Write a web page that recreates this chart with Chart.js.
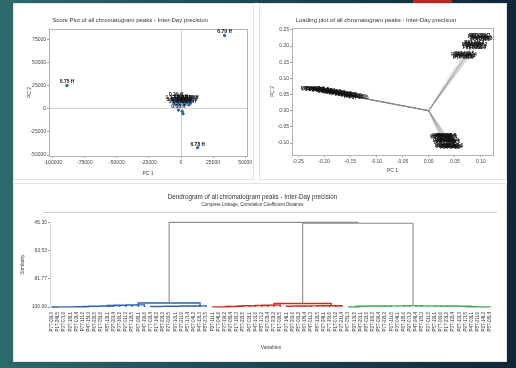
<!DOCTYPE html>
<html>
<head>
<meta charset="utf-8">
<script src="https://cdn.jsdelivr.net/npm/chart.js@4.4.1/dist/chart.umd.min.js"></script>
<style>
  html, body { margin: 0; padding: 0; }
  body { width: 516px; height: 368px; overflow: hidden; position: relative;
    background: linear-gradient(90deg, #2c6a6a 0%, #1d4b55 45%, #102638 100%); }
  .sheet { position: absolute; left: 13px; top: 3px; width: 494px; height: 359px; background: #fff; }
  .frame { position: absolute; border: 1px solid #e3e3e3; box-sizing: border-box; }
  canvas { position: absolute; }
  #topbar { position: absolute; left: 413px; top: 0; width: 39px; height: 3px; background: #c3231f; }
</style>
</head>
<body>
<div id="topbar"></div>
<div class="sheet"></div>
<div class="frame" style="left:13px;top:3px;width:241px;height:177px"></div>
<div class="frame" style="left:259px;top:3px;width:248px;height:177px"></div>
<div class="frame" style="left:13px;top:183px;width:494px;height:179px"></div>
<canvas id="score" width="240" height="176" style="left:13px;top:3px"></canvas>
<canvas id="loading" width="248" height="176" style="left:259px;top:3px"></canvas>
<canvas id="dendro" width="494" height="178" style="left:13px;top:183px"></canvas>
<script>
// ---- score plot ----
const scorePC1 = [-89000, 34000, 13000, -3800, -6400, -3300, -200, 2900, 5800, 8200, -5600, -2100, 1300, 4400, 7300, -4200, -700, 2600, 6100, -2000, 900, 1600];
const scorePC2 = [25000, 79000, -42000, 11000, 8600, 8300, 8900, 8400, 8100, 7700, 6400, 6200, 6900, 6300, 5900, 4400, 4200, 4700, 4100, -1500, -2800, -5400];
const scoreLabels = ['0.75 ff', '6.79 ff', '6.78 ff', '0.29 ff', '1.12 ff', '1.48 ff', '2.05 ff', '2.31 ff', '2.87 ff', '3.16 ff',
  '3.42 ff', '3.95 ff', '4.21 ff', '4.63 ff', '4.88 ff', '5.14 ff', '5.37 ff', '5.72 ff', '6.02 ff', '0.30 ff', '', ''];
const scoreXTicks = [-100000, -75000, -50000, -25000, 0, 25000, 50000];
const scoreYTicks = [-50000, -25000, 0, 25000, 50000, 75000];

// ---- variable names (dendrogram leaves / loading labels) ----
const blueNames = ['P7T-09L3', 'P1T-24L5', 'P3T-07L6', 'P2T-18L1', 'P5T-03L4', 'P7T-11L2', 'P4T-15L3', 'P6T-22L5', 'P1T-05L6',
  'P8T-13L1', 'P2T-20L4', 'P3T-16L2', 'P9T-01L3', 'P5T-12L5', 'P6T-08L1', 'P4T-19L6', 'P7T-02L4', 'P1T-14L2', 'P8T-23L3',
  'P2T-06L5', 'P9T-10L1', 'P3T-21L6', 'P5T-17L4', 'P6T-04L2', 'P4T-13L3', 'P8T-27L5'];
const redNames = ['P2T-11L1', 'P7T-04L6', 'P3T-19L2', 'P9T-08L4', 'P1T-16L3', 'P5T-22L5', 'P6T-02L1', 'P4T-10L6', 'P8T-17L2',
  'P2T-03L4', 'P7T-23L3', 'P1T-09L5', 'P3T-14L1', 'P9T-20L6', 'P5T-06L2', 'P6T-18L4', 'P4T-01L3', 'P8T-12L5', 'P2T-24L1',
  'P7T-15L6', 'P1T-07L2', 'P3T-21L4'];
const greenNames = ['P6T-05L3', 'P9T-13L5', 'P4T-20L1', 'P8T-02L6', 'P2T-16L2', 'P5T-09L4', 'P7T-22L3', 'P1T-11L5', 'P3T-04L1',
  'P6T-18L6', 'P9T-07L2', 'P4T-24L4', 'P8T-15L3', 'P2T-01L5', 'P5T-19L1', 'P7T-06L6', 'P1T-23L2', 'P3T-12L4', 'P6T-10L3',
  'P9T-17L5', 'P4T-03L1', 'P8T-21L6', 'P2T-14L2', 'P5T-08L4'];
const leafNames = blueNames.concat(redNames, greenNames);

// ---- loading plot ----
const loadLeftPC1 = [-0.226, -0.223, -0.218, -0.216, -0.211, -0.209, -0.204, -0.202, -0.197, -0.193, -0.191, -0.186, -0.183,
  -0.179, -0.177, -0.172, -0.168, -0.166, -0.161, -0.158, -0.155, -0.150, -0.147, -0.143, -0.139, -0.134];
const loadLeftPC2 = [0.068, 0.066, 0.067, 0.065, 0.064, 0.065, 0.062, 0.063, 0.061, 0.060, 0.059, 0.058, 0.057,
  0.056, 0.055, 0.053, 0.053, 0.051, 0.050, 0.049, 0.048, 0.046, 0.045, 0.044, 0.042, 0.041];
const loadUpPC1 = [0.094, 0.097, 0.099, 0.101, 0.103, 0.099, 0.096, 0.082, 0.085, 0.088, 0.091, 0.084, 0.087, 0.090, 0.093,
  0.062, 0.065, 0.068, 0.071, 0.066, 0.069, 0.073];
const loadUpPC2 = [0.228, 0.224, 0.231, 0.226, 0.222, 0.219, 0.233, 0.205, 0.201, 0.207, 0.199, 0.195, 0.210, 0.196, 0.203,
  0.172, 0.168, 0.175, 0.170, 0.163, 0.166, 0.174];
const loadLowPC1 = [0.022, 0.026, 0.030, 0.034, 0.028, 0.032, 0.024, 0.036, 0.027, 0.031, 0.035, 0.039, 0.029, 0.033, 0.037,
  0.041, 0.031, 0.035, 0.039, 0.043, 0.047, 0.033, 0.041, 0.045];
const loadLowPC2 = [-0.080, -0.078, -0.081, -0.077, -0.083, -0.079, -0.084, -0.082, -0.094, -0.092, -0.096, -0.093, -0.098,
  -0.097, -0.091, -0.095, -0.108, -0.111, -0.107, -0.112, -0.109, -0.113, -0.114, -0.110];
const loadXTicks = [-0.25, -0.20, -0.15, -0.10, -0.05, 0.00, 0.05, 0.10];
const loadYTicks = [-0.10, -0.05, 0.00, 0.05, 0.10, 0.15, 0.20, 0.25];

// ---- dendrogram: leaf order + similarity of each join ----
const blueA = [0, 1, 2, 3, 4, 5, 6, 7, 8, 9, 10, 11, 12, 13, 14, 15];
const blueASim = [99.96, 99.95, 99.93, 99.92, 99.9, 99.88, 99.6, 99.5, 99.45, 99.4, 99.0, 98.9, 98.8, 98.7, 98.6];
const blueB = [16, 17, 18, 19, 20, 21, 22, 23, 24, 25];
const blueBSim = [99.7, 99.65, 99.6, 99.55, 99.5, 99.45, 99.4, 99.35, 99.3];
const blueJoin = 97.4;
const redA = [26, 27, 28, 29, 30, 31, 32, 33, 34, 35, 36, 37];
const redASim = [99.95, 99.93, 99.9, 99.7, 99.6, 99.3, 99.2, 99.1, 99.0, 98.9, 98.8];
const redB = [38, 39, 40, 41, 42, 43, 44, 47, 46, 45];
const redBSim = [99.5, 99.45, 99.4, 99.35, 99.3, 99.25, 99.2, 99.15, 99.1];
const redJoin = 97.7;
const greenA = [48, 49, 50, 51, 52, 53, 54, 55, 56, 57, 58];
const greenASim = [99.95, 99.9, 99.5, 99.45, 99.4, 99.4, 99.35, 99.3, 99.3, 99.25];
const greenB = [71, 70, 69, 68, 67, 66, 65, 64, 63, 62, 61, 60, 59];
const greenBSim = [99.95, 99.93, 99.9, 99.88, 99.5, 99.45, 99.4, 99.4, 99.35, 99.3, 99.3, 99.25];
const greenJoin = 99.1;
const redGreenJoin = 45.9;
const finalJoin = 45.30;
const simTicks = [45.30, 63.53, 81.77, 100.00];

Chart.defaults.font.family = "'Liberation Sans', Arial, sans-serif";
Chart.defaults.color = '#444';

const framePlugin = {
  id: 'frame',
  afterDatasetsDraw(chart) {
    const a = chart.chartArea, ctx = chart.ctx;
    ctx.save();
    ctx.strokeStyle = '#b3b3b3';
    ctx.lineWidth = 1;
    ctx.strokeRect(Math.round(a.left) + 0.5, Math.round(a.top) + 0.5, Math.round(a.right - a.left), Math.round(a.bottom - a.top));
    ctx.restore();
  }
};

const pointLabelPlugin = {
  id: 'pointLabels',
  afterDatasetsDraw(chart) {
    const ctx = chart.ctx;
    chart.data.datasets.forEach((ds, i) => {
      if (!ds.pointLabels) return;
      const meta = chart.getDatasetMeta(i);
      ctx.save();
      ctx.font = ds.labelFont;
      ctx.fillStyle = '#111';
      ctx.textAlign = 'center';
      ctx.textBaseline = 'middle';
      meta.data.forEach((pt, j) => ctx.fillText(ds.pointLabels[j], pt.x, pt.y - ds.labelOffset));
      ctx.restore();
    });
  }
};

function fixX(h) {
  return s => { s.height = h; s.paddingLeft = 0; s.paddingRight = 0; };
}
function fixY(w) {
  return s => { s.width = w; s.paddingTop = 0; s.paddingBottom = 0; };
}
function setTicks(values) {
  return s => { s.ticks = values.map(v => ({ value: v })); };
}

// score plot
new Chart(document.getElementById('score'), {
  type: 'scatter',
  data: {
    datasets: [{
      data: scorePC1.map((x, i) => ({ x: x, y: scorePC2[i] })),
      pointLabels: scoreLabels,
      labelFont: 'bold 5px "Liberation Sans", Arial, sans-serif',
      labelOffset: 3.5,
      backgroundColor: '#2b5fae',
      borderColor: '#2b5fae',
      pointRadius: 1.2,
    }],
  },
  options: {
    responsive: false,
    animation: false,
    layout: { padding: { left: 0, right: 6, top: 0, bottom: 0 } },
    plugins: {
      legend: { display: false },
      tooltip: { enabled: false },
      title: { display: true, text: 'Score Plot of all chromatogram peaks - Inter-Day precision', color: '#333',
        font: { size: 6, weight: 'normal' }, padding: { top: 13.4, bottom: 5.4 } },
    },
    scales: {
      x: {
        type: 'linear', min: -103000, max: 51500,
        afterBuildTicks: setTicks(scoreXTicks), afterFit: fixX(23),
        ticks: { font: { size: 5 }, padding: 2, maxRotation: 0, autoSkip: false, callback: v => String(v) },
        grid: { color: c => (c.tick && c.tick.value === 0 ? '#d4d4d4' : 'transparent'), tickColor: '#999', tickLength: 2 },
        border: { display: false },
        title: { display: true, text: 'PC 1', font: { size: 5 }, padding: { top: 0, bottom: 2.4 } },
      },
      y: {
        type: 'linear', min: -51000, max: 86000,
        afterBuildTicks: setTicks(scoreYTicks), afterFit: fixY(36),
        ticks: { font: { size: 5 }, padding: 1, autoSkip: false, callback: v => String(v) },
        grid: { color: c => (c.tick && c.tick.value === 0 ? '#d4d4d4' : 'transparent'), tickColor: '#999', tickLength: 2 },
        border: { display: false },
        title: { display: true, text: 'PC 2', font: { size: 5 }, padding: { top: 13.4, bottom: 0 } },
      },
    },
  },
  plugins: [framePlugin, pointLabelPlugin],
});

// loading plot
const loadPC1 = loadLeftPC1.concat(loadUpPC1, loadLowPC1);
const loadPC2 = loadLeftPC2.concat(loadUpPC2, loadLowPC2);
const loadLines = [];
loadPC1.forEach((x, i) => {
  loadLines.push({ x: 0, y: 0 }, { x: x, y: loadPC2[i] }, { x: null, y: null });
});

new Chart(document.getElementById('loading'), {
  type: 'scatter',
  data: {
    datasets: [
      { data: loadLines, showLine: true, spanGaps: false, borderColor: 'rgba(130,130,130,0.28)', borderWidth: 0.5, pointRadius: 0 },
      {
        data: loadPC1.map((x, i) => ({ x: x, y: loadPC2[i] })),
        pointLabels: leafNames,
        labelFont: 'bold 4.5px "Liberation Sans", Arial, sans-serif',
        labelOffset: 0,
        pointRadius: 0,
      },
    ],
  },
  options: {
    responsive: false,
    animation: false,
    layout: { padding: { left: 0, right: 14, top: 0, bottom: 0 } },
    plugins: {
      legend: { display: false },
      tooltip: { enabled: false },
      title: { display: true, text: 'Loading plot of all chromatogram peaks - Inter-Day precision', color: '#333',
        font: { size: 6, weight: 'normal' }, padding: { top: 13.4, bottom: 4.4 } },
    },
    scales: {
      x: {
        type: 'linear', min: -0.2615, max: 0.123,
        afterBuildTicks: setTicks(loadXTicks), afterFit: fixX(24),
        ticks: { font: { size: 5 }, padding: 2, maxRotation: 0, autoSkip: false, callback: v => v.toFixed(2) },
        grid: { drawOnChartArea: false, tickColor: '#999', tickLength: 2 },
        border: { display: false },
        title: { display: true, text: 'PC 1', font: { size: 5 }, padding: { top: 0, bottom: 5.4 } },
      },
      y: {
        type: 'linear', min: -0.137, max: 0.256,
        afterBuildTicks: setTicks(loadYTicks), afterFit: fixY(33),
        ticks: { font: { size: 5 }, padding: 1, autoSkip: false, callback: v => v.toFixed(2) },
        grid: { drawOnChartArea: false, tickColor: '#999', tickLength: 2 },
        border: { display: false },
        title: { display: true, text: 'PC 2', font: { size: 5 }, padding: { top: 10.4, bottom: 0 } },
      },
    },
  },
  plugins: [framePlugin, pointLabelPlugin],
});

// dendrogram
function chain(leaves, sims) {
  let node = leaves[0];
  for (let k = 1; k < leaves.length; k++) node = [node, leaves[k], sims[k - 1]];
  return node;
}
function pushLink(out, a, b, sim) {
  out.push({ x: a.x, y: a.y }, { x: a.x, y: sim }, { x: b.x, y: sim }, { x: b.x, y: b.y }, { x: null, y: null });
  return { x: (a.x + b.x) / 2, y: sim };
}
function linkTree(node, out) {
  if (typeof node === 'number') return { x: node, y: 100 };
  const a = linkTree(node[0], out);
  const b = linkTree(node[1], out);
  return pushLink(out, a, b, node[2]);
}
const blueSegs = [], redSegs = [], greenSegs = [], graySegs = [];
const blueTop = linkTree([chain(blueA, blueASim), chain(blueB, blueBSim), blueJoin], blueSegs);
const redTop = linkTree([chain(redA, redASim), chain(redB, redBSim), redJoin], redSegs);
const greenTop = linkTree([chain(greenA, greenASim), chain(greenB, greenBSim), greenJoin], greenSegs);
const rgTop = pushLink(graySegs, redTop, greenTop, redGreenJoin);
pushLink(graySegs, blueTop, rgTop, finalJoin);

const separatorPlugin = {
  id: 'separator',
  beforeDatasetsDraw(chart) {
    const ctx = chart.ctx;
    ctx.save();
    ctx.strokeStyle = '#cfcfcf';
    ctx.lineWidth = 1;
    ctx.beginPath();
    ctx.moveTo(30, Math.round(chart.chartArea.top) - 9.5);
    ctx.lineTo(484, Math.round(chart.chartArea.top) - 9.5);
    ctx.stroke();
    ctx.restore();
  }
};

const segStyle = { showLine: true, spanGaps: false, pointRadius: 0 };
new Chart(document.getElementById('dendro'), {
  type: 'scatter',
  data: {
    datasets: [
      Object.assign({ data: graySegs, borderColor: '#8c8c8c', borderWidth: 1.1 }, segStyle),
      Object.assign({ data: blueSegs, borderColor: '#2c62b4', borderWidth: 1.4 }, segStyle),
      Object.assign({ data: redSegs, borderColor: '#d12d26', borderWidth: 1.4 }, segStyle),
      Object.assign({ data: greenSegs, borderColor: '#3faa5a', borderWidth: 1.4 }, segStyle),
    ],
  },
  options: {
    responsive: false,
    animation: false,
    clip: false,
    layout: { padding: { left: 0, right: 15, top: 0, bottom: 0 } },
    plugins: {
      legend: { display: false },
      tooltip: { enabled: false },
      title: { display: true, text: 'Dendrogram of all chromatogram peaks - Inter-Day precision', color: '#333',
        font: { size: 6.3, weight: 'normal' }, padding: { top: 10.4, bottom: 0 } },
      subtitle: { display: true, text: 'Complete Linkage, Correlation Coefficient Distance', color: '#333',
        font: { size: 4.5 }, padding: { top: 0.7, bottom: 15.3 } },
    },
    scales: {
      x: {
        type: 'linear', min: -0.3, max: 71.3,
        afterBuildTicks: setTicks(leafNames.map((n, i) => i)), afterFit: fixX(54),
        ticks: { font: { size: 4.5 }, padding: 5, autoSkip: false, minRotation: 90, maxRotation: 90, color: '#333',
          callback: v => leafNames[v] },
        grid: { display: false, drawTicks: false },
        border: { display: false },
        title: { display: true, text: 'Variables', font: { size: 5 }, padding: { top: 0, bottom: 10 } },
      },
      y: {
        type: 'linear', reverse: true, min: 45.30, max: 100,
        afterBuildTicks: setTicks(simTicks), afterFit: fixY(37),
        ticks: { font: { size: 5 }, padding: 1, autoSkip: false, callback: v => v.toFixed(2) },
        grid: { drawOnChartArea: false, tickColor: '#999', tickLength: 2 },
        border: { color: '#d8d8d8' },
        title: { display: true, text: 'Similarity', font: { size: 5 }, padding: { top: 7, bottom: 0 } },
      },
    },
  },
  plugins: [separatorPlugin],
});
</script>
</body>
</html>
